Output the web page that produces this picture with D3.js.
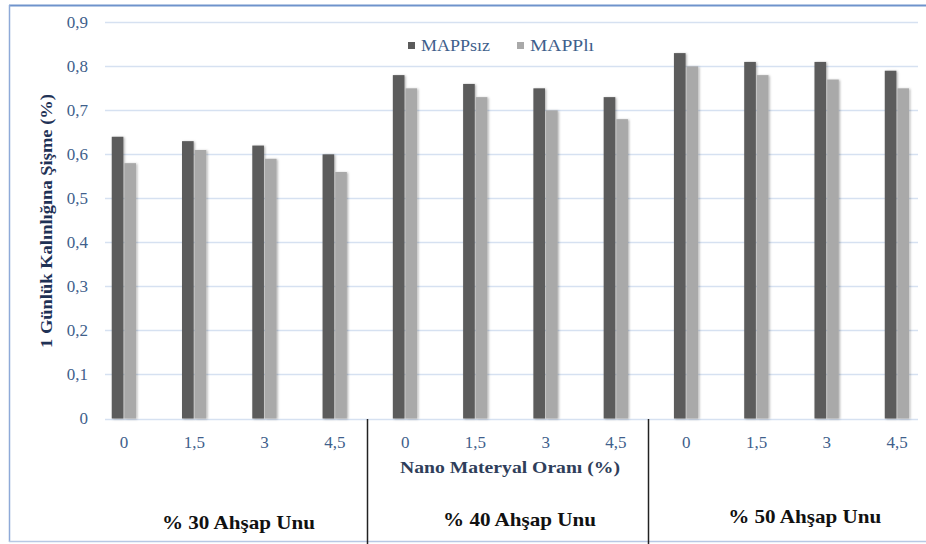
<!DOCTYPE html>
<html><head><meta charset="utf-8">
<script src="https://cdn.jsdelivr.net/npm/d3@7"></script>
<style>
html,body{margin:0;padding:0;background:#fff;}
svg{display:block;}
text{font-family:"Liberation Serif","Times New Roman",serif;}
</style></head>
<body>
<svg id="chart" width="926" height="544"></svg>
<script>
const categories = ["0","1,5","3","4,5","0","1,5","3","4,5","0","1,5","3","4,5"];
const groups = ["% 30 Ahşap Unu","% 40 Ahşap Unu","% 50 Ahşap Unu"];
const seriesNames = ["MAPPsız","MAPPlı"];
const mappSiz = [0.64,0.63,0.62,0.60,0.78,0.76,0.75,0.73,0.83,0.81,0.81,0.79];
const mappLi  = [0.58,0.61,0.59,0.56,0.75,0.73,0.70,0.68,0.80,0.78,0.77,0.75];
const yTicks = [0,0.1,0.2,0.3,0.4,0.5,0.6,0.7,0.8,0.9];
const yTickLabels = ["0","0,1","0,2","0,3","0,4","0,5","0,6","0,7","0,8","0,9"];
const yTitle = "1 Günlük Kalınlığına Şişme (%)";
const xTitle = "Nano Materyal Oranı (%)";

const colors = ["#5b5b5b","#a9a9a9"];
const tickColor = "#3f5f8c";
const svg = d3.select("#chart");

const defs = svg.append("defs");
const f = defs.append("filter").attr("id","sh").attr("x","-20%").attr("y","-5%").attr("width","160%").attr("height","110%");
f.append("feDropShadow").attr("dx",1.2).attr("dy",0.6).attr("stdDeviation",0.8).attr("flood-color","#000").attr("flood-opacity",0.3);

// frame
svg.append("line").attr("x1",9).attr("x2",926).attr("y1",5.5).attr("y2",5.5).attr("stroke","#6f93cc").attr("stroke-width",2);
svg.append("line").attr("x1",9.5).attr("x2",9.5).attr("y1",5).attr("y2",542).attr("stroke","#8eaad8").attr("stroke-width",1.5);
svg.append("line").attr("x1",9).attr("x2",926).attr("y1",541.5).attr("y2",541.5).attr("stroke","#b7c8e4").attr("stroke-width",1.5);

const idx = d3.range(categories.length);
const x = d3.scaleBand().domain(idx).range([88.9, 932.2]).padding(0);
const xs = d3.scaleBand().domain([0,1]).range([-12.3, 12]).paddingInner(0.08);
const y = d3.scaleLinear().domain([0,0.9]).range([418.5,22.3]);
const gridL = 105, gridR = 918;

// gridlines
svg.append("g").selectAll("line").data(yTicks).join("line")
  .attr("x1",gridL).attr("x2",gridR)
  .attr("y1",d=>Math.round(y(d))+0.5).attr("y2",d=>Math.round(y(d))+0.5)
  .attr("stroke","#d6e1f1").attr("stroke-width",1.3);

// y tick labels
svg.append("g").selectAll("text").data(yTicks).join("text")
  .attr("x",88).attr("y",d=>y(d)).attr("dy","0.35em")
  .attr("text-anchor","end").attr("font-size",17).attr("fill",tickColor)
  .text((d,i)=>yTickLabels[i]);

// bars
const series = [mappSiz, mappLi];
series.forEach((vals,s)=>{
  svg.append("g").attr("filter","url(#sh)").selectAll("rect").data(vals).join("rect")
    .attr("x",(d,i)=>x(i)+x.bandwidth()/2+xs(s))
    .attr("width",xs.bandwidth())
    .attr("y",d=>y(d))
    .attr("height",d=>y(0)-y(d))
    .attr("fill",colors[s]);
});

// x tick labels
svg.append("g").selectAll("text").data(idx).join("text")
  .attr("x",i=>x(i)+x.bandwidth()/2).attr("y",448)
  .attr("text-anchor","middle").attr("font-size",17).attr("fill",tickColor)
  .text(i=>categories[i]);

// group separators
[4,8].forEach(b=>{
  const sx = Math.round(x(b)-3.5)+0.5;
  svg.append("line").attr("x1",sx).attr("x2",sx).attr("y1",419).attr("y2",544)
    .attr("stroke","#222").attr("stroke-width",1.5);
});

// group labels
const groupY = [529,526,523];
groups.forEach((g,k)=>{
  const cx = (x(k*4)+x(k*4+3)+x.bandwidth())/2;
  svg.append("text").attr("x",cx + [9,9,13][k]).attr("y",groupY[k])
    .attr("text-anchor","middle").attr("font-size",19).attr("font-weight","bold").attr("fill","#111")
    .attr("textLength",153).attr("lengthAdjust","spacingAndGlyphs")
    .text(g);
});

// x title
svg.append("text").attr("x",510).attr("y",473).attr("text-anchor","middle")
  .attr("font-size",17).attr("font-weight","bold").attr("fill","#2f3e5a")
  .attr("textLength",220).attr("lengthAdjust","spacingAndGlyphs")
  .text(xTitle);

// y title
svg.append("text").attr("transform","translate(52,221) rotate(-90)")
  .attr("text-anchor","middle").attr("font-size",17).attr("font-weight","bold").attr("fill","#1f3256")
  .attr("textLength",254).attr("lengthAdjust","spacingAndGlyphs")
  .text(yTitle);

// legend
const legX = [408, 517];
seriesNames.forEach((n,s)=>{
  svg.append("rect").attr("x",legX[s]).attr("y",42).attr("width",7).attr("height",7).attr("fill",colors[s]);
  svg.append("text").attr("x",legX[s]+13).attr("y",45.5).attr("dy","0.35em")
    .attr("font-size",17).attr("fill",tickColor)
    .attr("textLength",s===0?69:64).attr("lengthAdjust","spacingAndGlyphs")
    .text(n);
});
</script>
</body></html>
